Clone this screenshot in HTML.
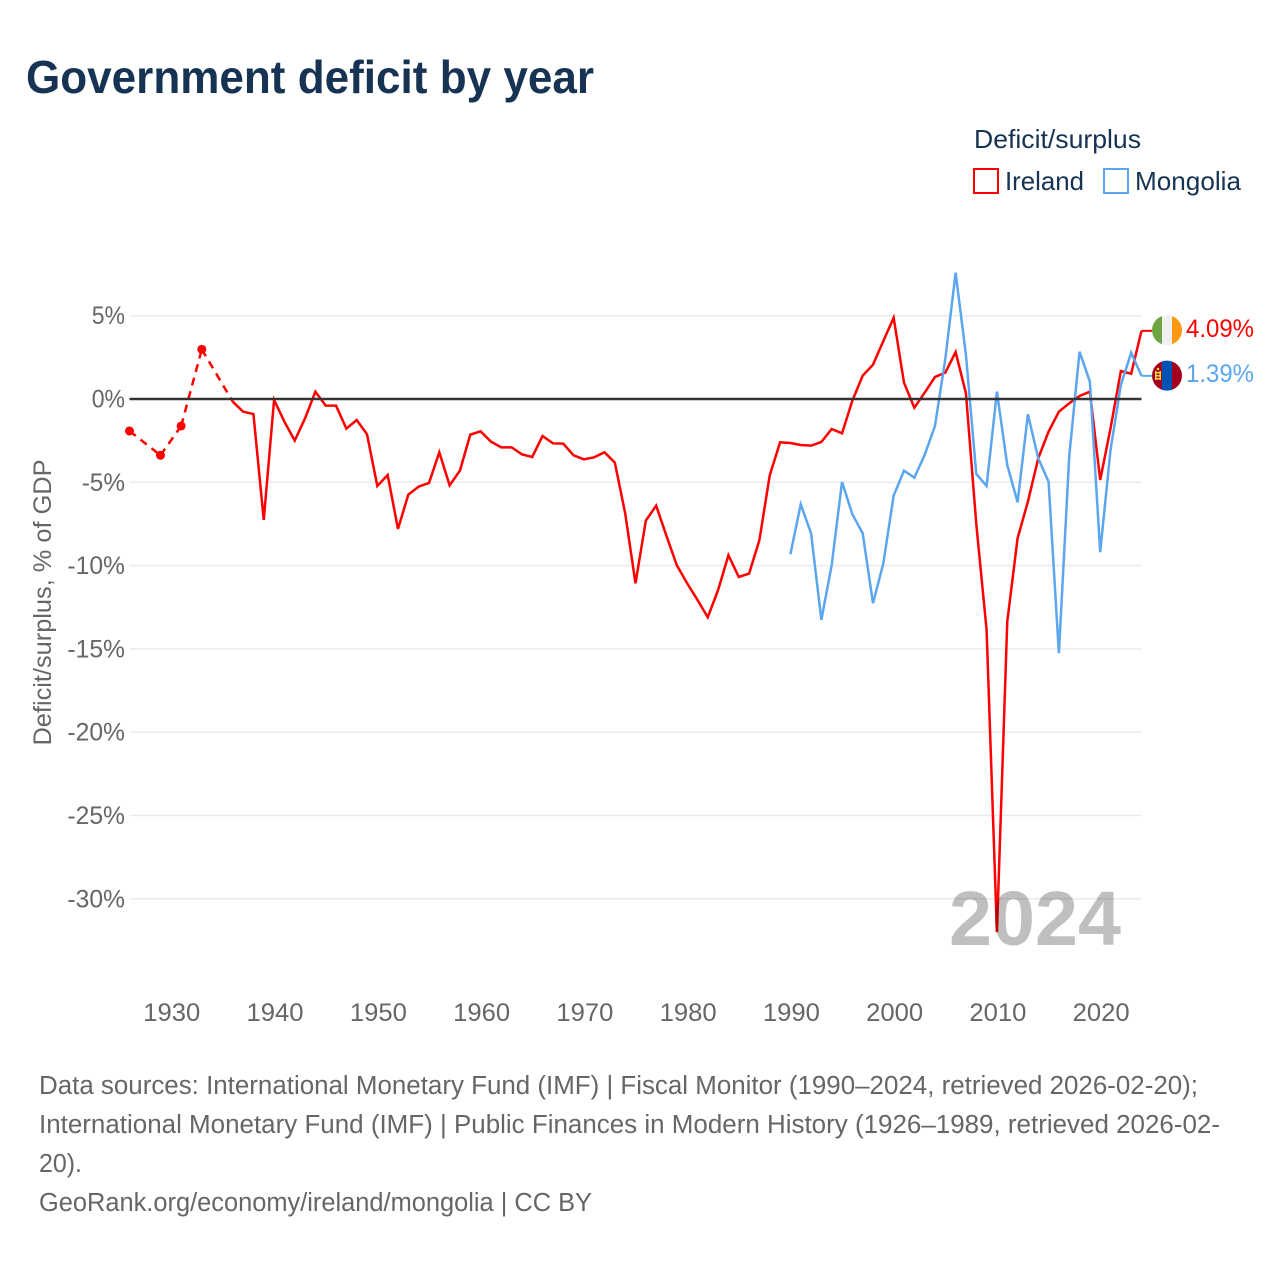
<!DOCTYPE html>
<html lang="en">
<head>
<meta charset="utf-8">
<title>Government deficit by year</title>
<style>
html,body{margin:0;padding:0;background:#fff;}
svg{display:block;}
text{font-family:"Liberation Sans",Arial,sans-serif;}
</style>
</head>
<body>
<svg id="chart" xmlns="http://www.w3.org/2000/svg" width="1280" height="1280" viewBox="0 0 1280 1280">
  <rect x="0" y="0" width="1280" height="1280" fill="#ffffff"/>
  <text x="26" y="93" font-size="46" font-weight="700" fill="#163354" textLength="568" lengthAdjust="spacingAndGlyphs">Government deficit by year</text>

  <g>
    <text x="974" y="148" font-size="26" fill="#163354" textLength="167" lengthAdjust="spacingAndGlyphs">Deficit/surplus</text>
    <g>
      <rect x="974" y="169" width="24" height="24" fill="#ffffff" stroke="#ff0000" stroke-width="2"/>
      <text x="1005" y="190" font-size="26" fill="#163354" textLength="79" lengthAdjust="spacingAndGlyphs">Ireland</text>
    </g>
    <g>
      <rect x="1104" y="169" width="24" height="24" fill="#ffffff" stroke="#5ba6ee" stroke-width="2"/>
      <text x="1135" y="190" font-size="26" fill="#163354" textLength="106" lengthAdjust="spacingAndGlyphs">Mongolia</text>
    </g>
  </g>

  <g id="grid"></g>
  <g id="yticks"></g>
  <g id="xticks"></g>
  <text transform="translate(51,602.5) rotate(-90)" text-anchor="middle" font-size="25" fill="#666666" textLength="286" lengthAdjust="spacingAndGlyphs">Deficit/surplus, % of GDP</text>

  <g id="series"></g>

  <text x="949" y="945" font-size="77" font-weight="700" fill="#000000" fill-opacity="0.25" textLength="172" lengthAdjust="spacingAndGlyphs">2024</text>

  <g>
    <clipPath id="clip-ie"><circle cx="1167" cy="330.2" r="15"/></clipPath>
    <g clip-path="url(#clip-ie)">
      <rect x="1152" y="315" width="10" height="31" fill="#6da544"/>
      <rect x="1162" y="315" width="10" height="31" fill="#f0f0f0"/>
      <rect x="1172" y="315" width="10" height="31" fill="#ff9811"/>
    </g>
    <text x="1186" y="337" font-size="25" fill="#ff0000" textLength="68" lengthAdjust="spacingAndGlyphs">4.09%</text>
  </g>
  <g>
    <clipPath id="clip-mn"><circle cx="1167" cy="375.6" r="15"/></clipPath>
    <g clip-path="url(#clip-mn)">
      <rect x="1152" y="360" width="10" height="31" fill="#a2001d"/>
      <rect x="1162" y="360" width="10" height="31" fill="#0052b4"/>
      <rect x="1172" y="360" width="10" height="31" fill="#a2001d"/>
      <rect x="1155" y="371" width="1.5" height="9" fill="#ffda44"/>
      <rect x="1159.5" y="371" width="1.5" height="9" fill="#ffda44"/>
      <rect x="1156.5" y="372" width="3" height="1.5" fill="#ffda44"/>
      <rect x="1156.5" y="375" width="3" height="1.5" fill="#ffda44"/>
      <rect x="1156.5" y="378" width="3" height="1.5" fill="#ffda44"/>
      <circle cx="1158" cy="369" r="1.3" fill="#ffda44"/>
    </g>
    <text x="1186" y="382" font-size="25" fill="#5ba6ee" textLength="68" lengthAdjust="spacingAndGlyphs">1.39%</text>
  </g>

  <g font-size="25.5" fill="#666666">
    <text x="39" y="1094" textLength="1159" lengthAdjust="spacingAndGlyphs">Data sources: International Monetary Fund (IMF) | Fiscal Monitor (1990–2024, retrieved 2026-02-20);</text>
    <text x="39" y="1133" textLength="1181" lengthAdjust="spacingAndGlyphs">International Monetary Fund (IMF) | Public Finances in Modern History (1926–1989, retrieved 2026-02-</text>
    <text x="39" y="1172" textLength="43" lengthAdjust="spacingAndGlyphs">20).</text>
    <text x="39" y="1211" textLength="553" lengthAdjust="spacingAndGlyphs">GeoRank.org/economy/ireland/mongolia | CC BY</text>
  </g>
</svg>

<script>
var xTickYears = [1930,1940,1950,1960,1970,1980,1990,2000,2010,2020];
var yTickValues = [5,0,-5,-10,-15,-20,-25,-30];
var firstYear = 1926;
var irelandValues = [
  -1.92,null,null,-3.38,null,-1.62,null,2.98,null,null,
  -0.16,-0.76,-0.9,-7.26,-0.06,-1.36,-2.5,-1.16,0.44,-0.4,
  -0.4,-1.78,-1.26,-2.12,-5.22,-4.56,-7.8,-5.74,-5.26,-5.04,
  -3.2,-5.18,-4.3,-2.14,-1.94,-2.56,-2.9,-2.9,-3.32,-3.48,
  -2.22,-2.66,-2.68,-3.38,-3.62,-3.5,-3.2,-3.82,-6.86,-11.06,
  -7.3,-6.4,-8.22,-9.98,-11.06,-12.06,-13.1,-11.46,-9.38,-10.68,
  -10.48,-8.46,-4.58,-2.6,-2.64,-2.76,-2.8,-2.58,-1.8,-2.06,
  -0.1,1.4,2.06,3.48,4.88,0.98,-0.52,0.38,1.32,1.58,
  2.82,0.34,-7.5,-13.87,-32,-13.36,-8.36,-6.16,-3.56,-1.96,
  -0.76,-0.26,0.18,0.44,-4.86,-1.76,1.68,1.52,4.09
];
var mongoliaFirstYear = 1990;
var mongoliaValues = [
  -9.32,-6.32,-8.06,-13.26,-9.96,-4.98,-6.92,-8.06,-12.26,-9.86,
  -5.8,-4.3,-4.72,-3.36,-1.62,2.4,7.58,2.64,-4.5,-5.22,
  0.44,-3.96,-6.2,-0.92,-3.56,-4.96,-15.26,-3.46,2.84,1.04,
  -9.2,-3.06,0.84,2.78,1.39
];

var NS = 'http://www.w3.org/2000/svg';
var plotLeft = 129.5, plotRight = 1141.5;
function xScale(year){ return plotLeft + (year - 1926) * (plotRight - plotLeft) / (2024 - 1926); }
function yScale(v){ return 399 - v * 16.66; }
function mk(tag, attrs, parent){
  var el = document.createElementNS(NS, tag);
  for (var k in attrs) el.setAttribute(k, attrs[k]);
  parent.appendChild(el);
  return el;
}

var grid = document.getElementById('grid');
var yticks = document.getElementById('yticks');
var xticks = document.getElementById('xticks');
var seriesGroup = document.getElementById('series');

yTickValues.forEach(function(v){
  if (v !== 0) {
    var gl = mk('line', {x1:plotLeft, x2:plotRight, y1:yScale(v), y2:yScale(v), stroke:'#ebebeb', 'stroke-width':1.5}, grid);
    
    
  }
  var label = v + '%';
  var w = (Math.abs(v) >= 10 ? 2 : 1) * 14.3 + 19 + (v < 0 ? 10 : 0);
  var t = mk('text', {x:125, y:yScale(v) + 8.5, 'text-anchor':'end', 'font-size':25, fill:'#666666', textLength:w, lengthAdjust:'spacingAndGlyphs'}, yticks);
  t.textContent = label;
  
  
});

xTickYears.forEach(function(y){
  var t = mk('text', {x:xScale(y) + 1, y:1021, 'text-anchor':'middle', 'font-size':25, fill:'#666666', textLength:57, lengthAdjust:'spacingAndGlyphs'}, xticks);
  t.textContent = String(y);
  
  
});

function drawSeries(values, startYear, color, name){
  var g = mk('g', {}, seriesGroup);
  
  
  var run = [], prev = null;
  function flush(){
    if (run.length > 1) {
      var p = mk('polyline', {points:run.join(' '), fill:'none', stroke:color, 'stroke-width':2.5, 'stroke-linejoin':'miter'}, g);
      
      
    }
    run = [];
  }
  values.forEach(function(v, i){
    var year = startYear + i;
    if (v === null) return;
    var px = xScale(year), py = yScale(v);
    if (prev && year - prev.year > 1) {
      flush();
      var d = mk('line', {x1:prev.x, y1:prev.y, x2:px, y2:py, stroke:color, 'stroke-width':2.5, 'stroke-dasharray':'8 6'}, g);
      
      
    }
    var isolated = (i === 0 || values[i-1] === null) && (i === values.length - 1 || values[i+1] === null);
    if (isolated) {
      var c = mk('circle', {cx:px, cy:py, r:4.5, fill:color}, g);
      
      
    }
    run.push(px + ',' + py);
    prev = {year:year, x:px, y:py};
  });
  flush();
  var last = prev;
  var connector = mk('line', {x1:last.x, y1:last.y, x2:1152, y2:last.y, stroke:color, 'stroke-width':2}, g);
  
  
}

drawSeries(irelandValues, firstYear, '#ff0000', 'ireland');
drawSeries(mongoliaValues, mongoliaFirstYear, '#5ba6ee', 'mongolia');

var zero = mk('line', {x1:plotLeft, x2:plotRight, y1:yScale(0), y2:yScale(0), stroke:'#333333', 'stroke-width':2.5}, seriesGroup);


</script>
</body>
</html>
